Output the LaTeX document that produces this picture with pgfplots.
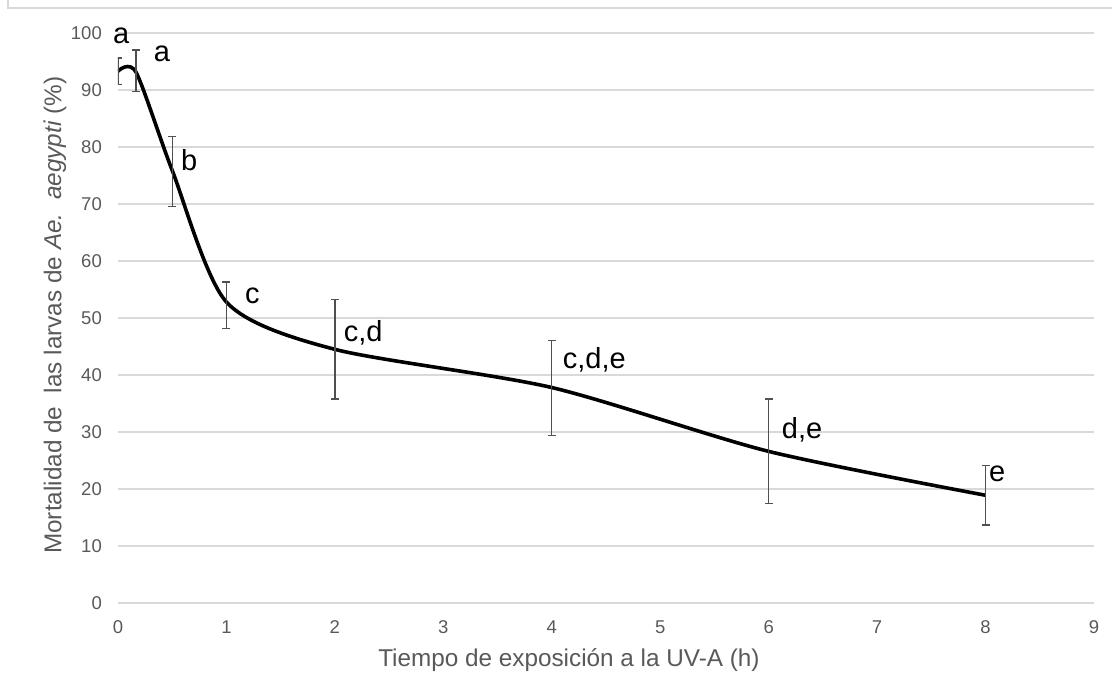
\documentclass[border=0pt]{standalone}
\usepackage{fontspec}
\setmainfont{Liberation Sans}
\usepackage{pgfplots}
\pgfplotsset{compat=1.18}
\definecolor{txtgray}{HTML}{595959}
\definecolor{gridgray}{HTML}{D9D9D9}
\definecolor{errgray}{HTML}{505050}
\begin{document}
\begin{tikzpicture}
\begin{axis}[
  at={(118pt,91pt)}, anchor=south west,
  scale only axis,
  width=976pt, height=570pt,
  xmin=0, xmax=9, ymin=0, ymax=100,
  xtick={0,1,...,9}, ytick={0,10,...,100},
  ymajorgrids,
  major grid style={color=gridgray, line width=1.4pt},
  axis line style={draw=none},
  major tick length=0pt,
  clip mode=individual,
  /pgf/number format/assume math mode=true,
  tick label style={font=\fontsize{18.5}{20}\selectfont, text=txtgray},
  xticklabel style={inner sep=0pt, anchor=base, yshift=-30.5pt},
  yticklabel style={inner sep=0pt, anchor=east, xshift=-16pt},
  xlabel={Tiempo de exposición a la UV-A (h)},
  ylabel={Mortalidad de\ \ las larvas de \textit{Ae.\ \ aegypti} (\%)},
  label style={font=\fontsize{24.3}{26}\selectfont, text=txtgray},
  xlabel style={at={(axis description cs:0.462,-0.100)}, anchor=center},
  ylabel style={at={(axis description cs:-0.0645,0.505)}, anchor=center},
]
% smoothed mean curve
\addplot[black, line width=3.6pt, smooth, tension=0.45, mark=none] coordinates {
  (0,93.3) (0.1667,93.1) (0.5,75.9) (1,52.8) (2,44.5) (4,37.8) (6,26.6) (8,18.9)
};
% error bars
\addplot[draw=none, mark=none, forget plot,
  error bars/.cd, y dir=both, y explicit,
  error bar style={color=errgray, line width=1.3pt},
  error mark options={color=errgray, line width=1.3pt, mark size=4pt, rotate=90}]
  table[x=x, y=y, y error=e] {
x y e
0 93.3 2.3
0.1667 93.35 3.65
0.5 75.7 6.2
1 52.25 4.05
2 44.5 8.7
4 37.7 8.3
6 26.6 9.2
8 18.9 5.2
};
\begin{scope}[every node/.style={font=\fontsize{29}{32}\selectfont, anchor=base west, inner sep=0pt, text=black}]
\node at (axis cs:-0.046,98.2) {a};
\node at (axis cs:0.33,95.0) {a};
\node at (axis cs:0.58,75.85) {b};
\node at (axis cs:1.17,52.6) {c};
\node at (axis cs:2.08,45.85) {c,d};
\node at (axis cs:4.1,41.2) {c,d,e};
\node at (axis cs:6.12,28.9) {d,e};
\node at (axis cs:8.03,21.3) {e};
\end{scope}
\end{axis}
\draw[gridgray, line width=2pt] (8pt,694pt) -- (8pt,686pt) -- (1112pt,686pt);
\pgfresetboundingbox
\useasboundingbox (0,0) rectangle (1112pt,694pt);
\end{tikzpicture}
\end{document}
